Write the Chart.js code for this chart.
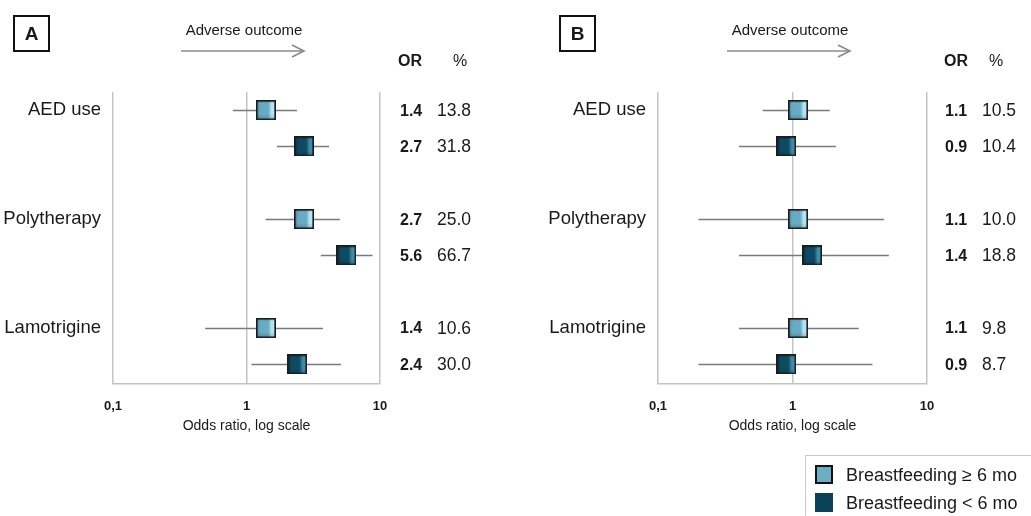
<!DOCTYPE html>
<html>
<head>
<meta charset="utf-8">
<script src="https://cdn.jsdelivr.net/npm/chart.js@4.4.1/dist/chart.umd.min.js"></script>
<style>
  body { margin: 0; background: #fff; font-family: "Liberation Sans", Arial, sans-serif; color: #1a1a1a; }
  #page { position: relative; width: 1031px; height: 516px; overflow: hidden; background: #fff; }
  canvas.cv { position: absolute; top: 0; }
  .tag { position: absolute; top: 15px; width: 33px; height: 33px; border: 2px solid #111;
         font: bold 19px "Liberation Sans", Arial, sans-serif; display: flex; align-items: center; justify-content: center; }
  .adv { position: absolute; top: 21px; width: 200px; margin-left: -100px; text-align: center; font-size: 15px; }
  .hdr { position: absolute; top: 51px; font-size: 16px; line-height: 20px; }
  .hdr.or { font-weight: bold; }
  .hdr.pct { width: 30px; margin-left: -15px; text-align: center; }
  svg.arrow { position: absolute; top: 41px; overflow: visible; }
  #legend { position: absolute; left: 805px; top: 455px; width: 240px; height: 80px; border: 1.5px solid #c8c8c8; }
  #legend .row { position: absolute; left: 40px; font-size: 18px; line-height: 20px; white-space: nowrap; }
  #legend .sw { position: absolute; left: -31px; top: 0; width: 18px; height: 19px; box-sizing: border-box; }
</style>
</head>
<body>
<div id="page">
  <canvas id="chartA" class="cv" width="545" height="516" style="left:0px"></canvas>
  <canvas id="chartB" class="cv" width="486" height="516" style="left:545px"></canvas>

  <div class="tag" style="left:13px">A</div>
  <div class="tag" style="left:559px">B</div>

  <div class="adv" style="left:244px">Adverse outcome</div>
  <div class="adv" style="left:790px">Adverse outcome</div>
  <svg class="arrow" style="left:181px" width="125" height="20">
    <g stroke="#8a8a8a" stroke-width="1.6" fill="none">
      <line x1="0" y1="10" x2="123" y2="10"/><polyline points="111,4 123,10 111,16"/>
    </g>
  </svg>
  <svg class="arrow" style="left:727px" width="125" height="20">
    <g stroke="#8a8a8a" stroke-width="1.6" fill="none">
      <line x1="0" y1="10" x2="123" y2="10"/><polyline points="111,4 123,10 111,16"/>
    </g>
  </svg>

  <div class="hdr or" style="left:398px">OR</div>
  <div class="hdr pct" style="left:460px">%</div>
  <div class="hdr or" style="left:944px">OR</div>
  <div class="hdr pct" style="left:996px">%</div>

  <div id="legend"></div>
</div>

<script>
// Outcome groups and the two breastfeeding strata
const categories = ['AED use', 'Polytherapy', 'Lamotrigine'];
const seriesNames = ['Breastfeeding \u2265 6 mo', 'Breastfeeding < 6 mo'];
const xTicks = [0.1, 1, 10];
const tickLabels = ['0,1', '1', '10'];

// Panel A: odds ratios, 95% CI bounds and share with the outcome (%)
const orA_long   = [1.4, 2.7, 1.4];
const loA_long   = [0.79, 1.39, 0.49];
const hiA_long   = [2.39, 5.0, 3.74];
const pctA_long  = [13.8, 25.0, 10.6];
const orA_short  = [2.7, 5.6, 2.4];
const loA_short  = [1.69, 3.6, 1.09];
const hiA_short  = [4.15, 8.8, 5.1];
const pctA_short = [31.8, 66.7, 30.0];

// Panel B
const orB_long   = [1.1, 1.1, 1.1];
const loB_long   = [0.60, 0.20, 0.40];
const hiB_long   = [1.89, 4.78, 3.11];
const pctB_long  = [10.5, 10.0, 9.8];
const orB_short  = [0.9, 1.4, 0.9];
const loB_short  = [0.40, 0.40, 0.20];
const hiB_short  = [2.10, 5.2, 3.93];
const pctB_short = [10.4, 18.8, 8.7];

const COLORS = {
  long:  { base: '#68acc3', light: '#b6e3f0', dark: '#5697ae', legend: '#6aaec5' },
  short: { base: '#0d4b63', light: '#3f8ca7', dark: '#083849', legend: '#0c4257' }
};

// Bevelled square marker used as the point style
function makeMarker(c) {
  const size = 20;
  const cv = document.createElement('canvas');
  cv.width = size; cv.height = size;
  const g = cv.getContext('2d');
  const grad = g.createLinearGradient(1, 0, size - 1, 0);
  grad.addColorStop(0, c.dark);
  grad.addColorStop(0.2, c.base);
  grad.addColorStop(0.62, c.base);
  grad.addColorStop(0.8, c.light);
  grad.addColorStop(0.92, c.light);
  grad.addColorStop(1, c.base);
  g.fillStyle = grad;
  g.fillRect(0, 0, size, size);
  const vg = g.createLinearGradient(0, size - 6, 0, size);
  vg.addColorStop(0, 'rgba(0,0,0,0)');
  vg.addColorStop(1, 'rgba(0,0,0,0.2)');
  g.fillStyle = vg;
  g.fillRect(0, size - 6, size, 6);
  g.strokeStyle = '#1b1b1b';
  g.lineWidth = 1.6;
  g.strokeRect(0.8, 0.8, size - 1.6, size - 1.6);
  return cv;
}
const markerLong = makeMarker(COLORS.long);
const markerShort = makeMarker(COLORS.short);

const rowOf = (g, s) => g * 3 + s + 0.5;

function buildSeries(or, lo, hi, pct, s) {
  return or.map((v, g) => ({ x: v, y: rowOf(g, s), lo: lo[g], hi: hi[g], pct: pct[g] }));
}

// Confidence-interval whiskers, drawn beneath the markers
const ciPlugin = {
  id: 'ciLines',
  beforeDatasetsDraw(chart) {
    const { ctx, scales: { x, y } } = chart;
    ctx.save();
    ctx.strokeStyle = '#7a7a7a';
    ctx.lineWidth = 1.5;
    chart.data.datasets.forEach(ds => {
      ds.data.forEach(p => {
        const yp = Math.round(y.getPixelForValue(p.y)) + 0.5;
        ctx.beginPath();
        ctx.moveTo(x.getPixelForValue(p.lo), yp);
        ctx.lineTo(x.getPixelForValue(p.hi), yp);
        ctx.stroke();
      });
    });
    ctx.restore();
  }
};

// OR and % columns to the right of each plot
const columnsPlugin = {
  id: 'valueColumns',
  afterDraw(chart, args, opts) {
    const { ctx, chartArea, scales: { y } } = chart;
    ctx.save();
    ctx.fillStyle = '#1a1a1a';
    ctx.textBaseline = 'middle';
    ctx.textAlign = 'left';
    chart.data.datasets.forEach(ds => {
      ds.data.forEach(p => {
        const yp = y.getPixelForValue(p.y) + 1;
        ctx.font = 'bold 16px "Liberation Sans", Arial, sans-serif';
        ctx.fillText(p.x.toFixed(1), chartArea.right + opts.orOffset, yp);
        ctx.font = '17.5px "Liberation Sans", Arial, sans-serif';
        ctx.fillText(p.pct.toFixed(1), chartArea.right + opts.pctOffset, yp);
      });
    });
    ctx.restore();
  }
};

function makePanel(canvasId, series, layout) {
  return new Chart(document.getElementById(canvasId), {
    type: 'scatter',
    data: {
      datasets: [
        { label: seriesNames[0], data: series[0], pointStyle: markerLong, pointRadius: 10, showLine: false },
        { label: seriesNames[1], data: series[1], pointStyle: markerShort, pointRadius: 10, showLine: false }
      ]
    },
    options: {
      responsive: false,
      animation: false,
      devicePixelRatio: 1,
      layout: { padding: { left: 0, top: 92, right: layout.padRight, bottom: 81 } },
      plugins: {
        legend: { display: false },
        tooltip: { enabled: false },
        valueColumns: { orOffset: layout.orOffset, pctOffset: layout.pctOffset }
      },
      scales: {
        x: {
          type: 'logarithmic',
          min: 0.1, max: 10,
          afterBuildTicks: s => { s.ticks = xTicks.map(v => ({ value: v })); },
          afterFit: s => { s.height = 51; },
          ticks: {
            callback: (v, i) => tickLabels[i],
            font: { family: '"Liberation Sans", Arial, sans-serif', size: 13, weight: 'bold' },
            color: '#1a1a1a', padding: 15, maxRotation: 0, autoSkip: false
          },
          grid: { color: '#c4c4c4', lineWidth: 1.5, drawTicks: false },
          border: { color: '#c4c4c4', width: 1.5 },
          title: {
            display: true, text: 'Odds ratio, log scale',
            font: { family: '"Liberation Sans", Arial, sans-serif', size: 14 },
            color: '#1a1a1a', padding: 0
          }
        },
        y: {
          type: 'linear',
          min: 0, max: 8.04, reverse: true,
          afterBuildTicks: s => { s.ticks = categories.map((c, g) => ({ value: rowOf(g, 0) })); },
          afterFit: s => { s.width = 113; },
          ticks: {
            callback: (v, i) => categories[i],
            font: { family: '"Liberation Sans", Arial, sans-serif', size: 18.5 },
            color: '#1a1a1a', padding: 12, autoSkip: false
          },
          grid: { display: false, drawTicks: false },
          border: { display: false }
        }
      }
    },
    plugins: [ciPlugin, columnsPlugin]
  });
}

makePanel('chartA', [
  buildSeries(orA_long, loA_long, hiA_long, pctA_long, 0),
  buildSeries(orA_short, loA_short, hiA_short, pctA_short, 1)
], { padRight: 165, orOffset: 20, pctOffset: 57 });

makePanel('chartB', [
  buildSeries(orB_long, loB_long, hiB_long, pctB_long, 0),
  buildSeries(orB_short, loB_short, hiB_short, pctB_short, 1)
], { padRight: 104, orOffset: 18, pctOffset: 55 });

// Legend
const legend = document.getElementById('legend');
seriesNames.forEach((name, i) => {
  const row = document.createElement('div');
  row.className = 'row';
  row.style.top = (i === 0 ? 9 : 37) + 'px';
  const sw = document.createElement('span');
  sw.className = 'sw';
  if (i === 0) { sw.style.background = COLORS.long.legend; sw.style.border = '2px solid #111'; }
  else { sw.style.background = COLORS.short.legend; }
  row.appendChild(sw);
  row.appendChild(document.createTextNode(name));
  legend.appendChild(row);
});
</script>
</body>
</html>
